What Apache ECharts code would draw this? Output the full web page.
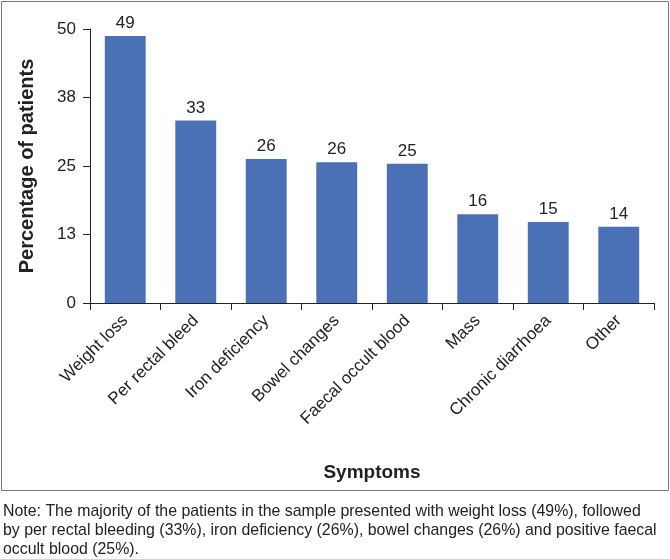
<!DOCTYPE html>
<html><head><meta charset="utf-8">
<script src="https://cdn.jsdelivr.net/npm/echarts@6/dist/echarts.min.js"></script>
<style>html,body{margin:0;padding:0;background:#fff}#c{width:670px;height:559px}</style>
</head><body><div id="c"></div>
<script>
const categories = ["Weight loss","Per rectal bleed","Iron deficiency","Bowel changes","Faecal occult blood","Mass","Chronic diarrhoea","Other"];
const values = [48.7, 33.3, 26.3, 25.7, 25.4, 16.2, 14.8, 13.9];
const yTicks = [0, 12.5, 25, 37.5, 50];
const yTickLabels = ["0","13","25","38","50"];
const noteLines = [
  "Note: The majority of the patients in the sample presented with weight loss (49%), followed",
  "by per rectal bleeding (33%), iron deficiency (26%), bowel changes (26%) and positive faecal",
  "occult blood (25%)."
];
const FONT = "Liberation Sans";
const chart = echarts.init(document.getElementById('c'), null, {renderer:'canvas'});
chart.setOption({
  animation:false,
  textStyle:{fontFamily:FONT},
  grid:{left:90, right:16, top:29, bottom:256, containLabel:false},
  xAxis:{
    type:'category', data:categories,
    axisLine:{lineStyle:{color:'#222', width:1}},
    axisTick:{show:true, alignWithLabel:false, length:7, lineStyle:{color:'#222'}},
    axisLabel:{rotate:45, color:'#222', fontSize:17, fontFamily:FONT, margin:15, interval:0},
    name:'Symptoms', nameLocation:'middle', nameGap:160,
    nameTextStyle:{fontSize:19, fontWeight:'bold', color:'#222', fontFamily:FONT}
  },
  yAxis:{
    type:'value', min:yTicks[0], max:yTicks[yTicks.length-1], interval:12.5,
    axisLine:{show:true, lineStyle:{color:'#222'}},
    axisTick:{show:true, length:7, lineStyle:{color:'#222'}},
    splitLine:{show:false},
    axisLabel:{color:'#222', fontSize:17, fontFamily:FONT, margin:14,
      formatter:v=>{const i=yTicks.indexOf(v);return i>=0?yTickLabels[i]:'';}},
    name:'Percentage of patients', nameLocation:'middle', nameGap:53,
    nameTextStyle:{fontSize:20, fontWeight:'bold', color:'#222', fontFamily:FONT}
  },
  series:[{
    type:'bar', data:values, barCategoryGap:'42%',
    itemStyle:{color:'#4a70b6'},
    label:{show:true, position:'top', color:'#222', fontSize:17, fontFamily:FONT, distance:4,
      formatter:p=>String(Math.round(p.value))}
  }],
  graphic:[
    {type:'rect', shape:{x:1.5, y:1.5, width:667, height:489}, style:{fill:'none', stroke:'#777', lineWidth:1}, z:-1},
    ...noteLines.map((t,i)=>({type:'text', left:3, top:504+i*19, style:{text:t, fontSize:15.9, fontFamily:FONT, fill:'#222'}}))
  ]
});
</script></body></html>
